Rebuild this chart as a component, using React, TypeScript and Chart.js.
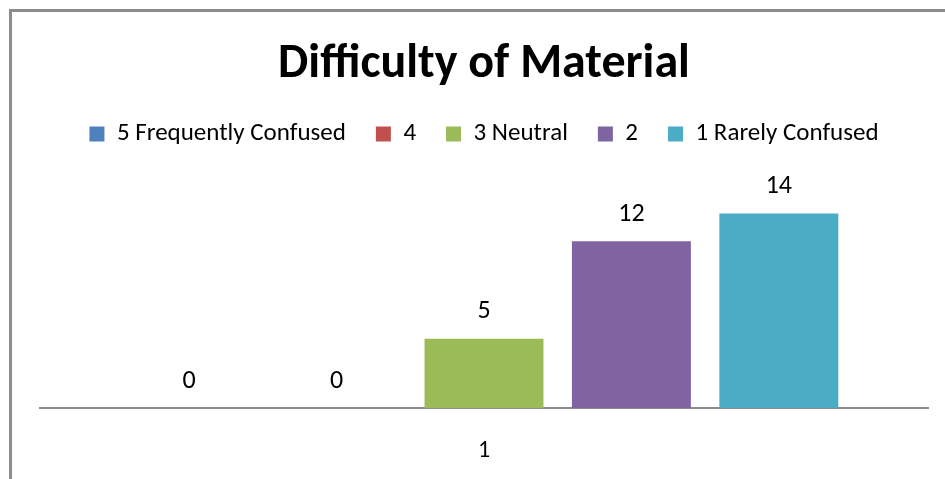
import React, { useEffect, useRef } from "react";
import { Chart, registerables } from "chart.js";

Chart.register(...registerables);

const categories = ["1"];
const seriesNames = ["5 Frequently Confused", "4", "3 Neutral", "2", "1 Rarely Confused"];
const seriesValues = [0, 0, 5, 12, 14];
const seriesColors = ["#4F81BD", "#C0504D", "#9BBB59", "#8064A2", "#4BACC6"];
const chartTitle = "Difficulty of Material";
const yMax = 16;

const FONT = "Carlito, Lato, 'Open Sans', sans-serif";

const valueLabels = {
  id: "valueLabels",
  afterDatasetsDraw(chart: any) {
    const ctx = chart.ctx;
    ctx.save();
    ctx.font = `26px ${FONT}`;
    ctx.fillStyle = "#000";
    ctx.textAlign = "center";
    ctx.textBaseline = "middle";
    chart.data.datasets.forEach((ds: any, i: number) => {
      const meta = chart.getDatasetMeta(i);
      meta.data.forEach((bar: any, j: number) => {
        ctx.fillText(String(ds.data[j]), bar.x, bar.y - 27);
      });
    });
    ctx.restore();
  },
};

const legendSpacer = {
  id: "legendSpacer",
  beforeInit(chart: any) {
    const legend = chart.legend;
    if (!legend) return;
    const orig = legend.fit;
    legend.fit = function () {
      orig.call(this);
      this.height += 29;
    };
  },
};

export default function App() {
  const ref = useRef<HTMLCanvasElement>(null);
  useEffect(() => {
    if (!ref.current) return;
    const chart = new Chart(ref.current, {
      type: "bar",
      data: {
        labels: categories,
        datasets: seriesNames.map((name, i) => ({
          label: name,
          data: [seriesValues[i]],
          backgroundColor: seriesColors[i],
          borderWidth: 0,
          categoryPercentage: 0.83,
          barPercentage: 0.807,
        })),
      },
      options: {
        animation: false,
        responsive: false,
        layout: { padding: { top: 0, left: 40, right: 17, bottom: -14 } },
        plugins: {
          title: {
            display: true,
            text: chartTitle,
            color: "#000",
            font: { family: FONT, size: 48, weight: "bold" },
            padding: { top: 36, bottom: -2 },
          },
          legend: {
            display: true,
            position: "top",
            labels: {
              color: "#000",
              font: { family: FONT, size: 25 },
              boxWidth: 15,
              boxHeight: 15,
              padding: 30,
            },
          },
          tooltip: { enabled: false },
        },
        scales: {
          x: {
            grid: { display: false, drawTicks: false },
            border: { display: true, color: "#8c8c8c", width: 2 },
            ticks: { color: "#000", font: { family: FONT, size: 24 }, padding: 28 },
          },
          y: {
            display: false,
            min: 0,
            max: yMax,
          },
        },
      },
      plugins: [valueLabels, legendSpacer],
    });
    return () => chart.destroy();
  }, []);
  return (
    <div style={{ position: "fixed", left: 0, top: 0, width: 945, height: 479, overflow: "hidden", background: "#fff" }}>
      <div
        style={{
          position: "absolute",
          left: 9,
          top: 9,
          width: 2000,
          height: 2000,
          borderTop: "3px solid #8c8c8c",
          borderLeft: "3px solid #8c8c8c",
        }}
      />
      <canvas ref={ref} width={945} height={479} style={{ position: "absolute", left: 0, top: 0 }} />
    </div>
  );
}
